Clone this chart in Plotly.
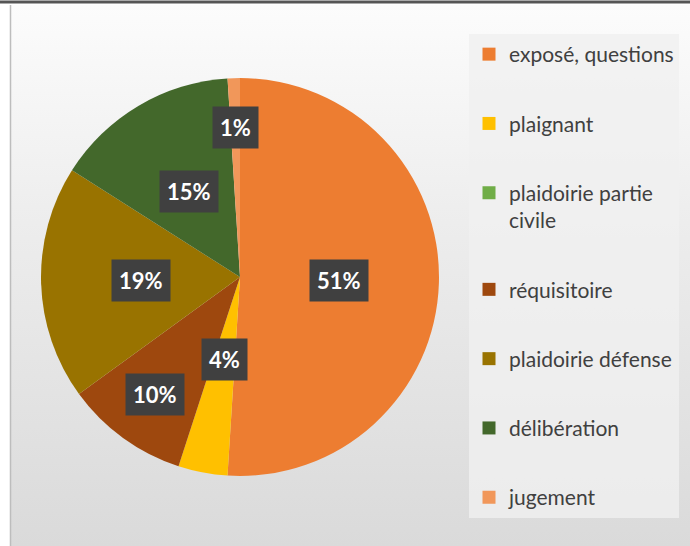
import math
import plotly.graph_objects as go

# ---- data ----
labels = ["exposé, questions", "plaignant", "plaidoirie partie civile", "réquisitoire",
          "plaidoirie défense", "délibération", "jugement"]
legend_labels = ["exposé, questions", "plaignant", "plaidoirie partie<br>civile", "réquisitoire",
                 "plaidoirie défense", "délibération", "jugement"]
values = [51, 4, 0, 10, 19, 15, 1]
colors = ["#ED7D31", "#FFC000", "#70AD47", "#9E480E", "#997300", "#43682B", "#F1975A"]
# label radial placement (fraction of radius), None = no label
label_radius = [0.5, 0.42, None, 0.73, 0.5, 0.5, 0.75]

W, H = 690, 546
CX, CY, R = 240, 277, 199
FONT = "Lato"

fig = go.Figure()

# background gradient panel
fig.add_trace(go.Scatter(
    x=[0, 1, 1, 0, 0], y=[0, 0, 1, 1, 0], mode="lines", line=dict(width=0),
    fill="toself",
    fillgradient=dict(type="vertical", colorscale=[[0, "#dadada"], [0.6, "#ededed"], [1, "#fcfcfc"]]),
    hoverinfo="skip", showlegend=False))

dom_x = [(CX - R) / W, (CX + R) / W]
dom_y = [1 - (CY + R) / H, 1 - (CY - R) / H]

fig.add_trace(go.Pie(
    labels=labels, values=values, sort=False, direction="clockwise", rotation=0,
    marker=dict(colors=colors, line=dict(width=0)),
    textinfo="none", showlegend=False, domain=dict(x=dom_x, y=dom_y),
    hoverinfo="label+percent"))

# legend entries
for lab, col in zip(legend_labels, colors):
    fig.add_trace(go.Scatter(
        x=[None], y=[None], mode="markers", name=lab, legendgroup=lab,
        marker=dict(symbol="square", size=13, color=col), showlegend=True))

# percentage labels
total = sum(values)
cum = 0
annotations = []
for v, rf in zip(values, label_radius):
    mid = (cum + v / 2) / total * 2 * math.pi
    cum += v
    if rf is None:
        continue
    px = CX + rf * R * math.sin(mid)
    py = CY - rf * R * math.cos(mid)
    annotations.append(dict(
        x=px / W, y=1 - py / H, xref="paper", yref="paper",
        text="<b>%d%%</b>" % round(v / total * 100), showarrow=False,
        font=dict(family=FONT, size=22, color="white"),
        bgcolor="#404040", borderpad=7, xanchor="center", yanchor="middle"))

fig.update_layout(
    width=W, height=H, margin=dict(l=0, r=0, t=0, b=0),
    paper_bgcolor="white", plot_bgcolor="rgba(0,0,0,0)",
    xaxis=dict(domain=[11 / W, 1], range=[0, 1], visible=False, fixedrange=True),
    yaxis=dict(domain=[0, 1 - 5 / H], range=[0, 1], visible=False, fixedrange=True),
    legend=dict(x=469 / W, y=1 - 34 / H, xanchor="left", yanchor="top",
                bgcolor="rgba(240,240,240,0.8)", borderwidth=0,
                font=dict(family=FONT, size=21, color="#404040"),
                tracegroupgap=39, itemsizing="trace", traceorder="grouped",
                valign="top", entrywidth=215),
    annotations=annotations,
    shapes=[
        dict(type="line", xref="paper", yref="paper", x0=0, x1=1, y0=1 - 2 / H, y1=1 - 2 / H,
             line=dict(color="#555555", width=3)),
        dict(type="line", xref="paper", yref="paper", x0=10.5 / W, x1=10.5 / W, y0=0, y1=1 - 5 / H,
             line=dict(color="#bdbdbd", width=1.5)),
    ],
)

fig.write_html("out.html")
